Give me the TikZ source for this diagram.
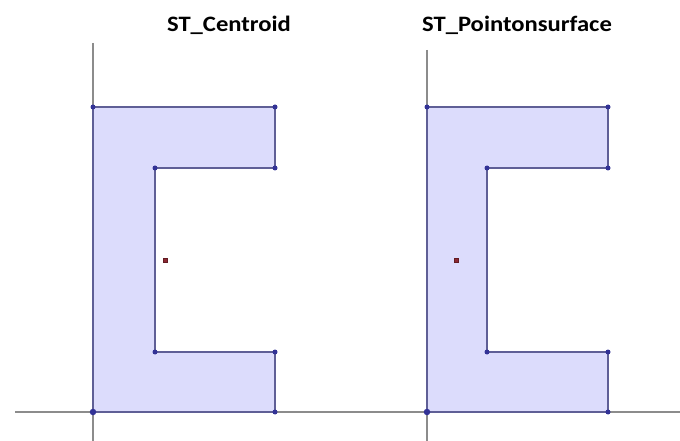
\documentclass[tikz,border=0pt]{standalone}
\usepackage{fontspec}
\setmainfont{Carlito}
\definecolor{edgec}{RGB}{95,95,150}
\definecolor{fillc}{RGB}{220,220,252}
\definecolor{vtxc}{RGB}{50,50,150}
\definecolor{ptc}{RGB}{140,40,50}
\begin{document}
\begin{tikzpicture}[x=1bp,y=-1bp,
  axis/.style={draw=black!45,line width=1.1bp},
  poly/.style={draw=edgec,fill=fillc,line width=1.1bp},
  vtx/.style={circle,fill=vtxc,inner sep=0pt,minimum size=5bp},
  orig/.style={circle,fill=vtxc,inner sep=0pt,minimum size=6.5bp},
  cpt/.style={rectangle,fill=ptc,draw=ptc!70!black,line width=0.4bp,inner sep=0pt,minimum size=4.5bp},
  ttl/.style={font=\bfseries\fontsize{22bp}{26bp}\selectfont,inner sep=0pt,anchor=base,xscale=1.12}]
\useasboundingbox (0,0) rectangle (680,441);
% axes
\coordinate (hL) at (15,412);
\coordinate (hR) at (680,412);
\coordinate (v1t) at (93,43);
\coordinate (v1b) at (93,441);
\coordinate (v2t) at (427,50);
\coordinate (v2b) at (427,441);
% left shape
\draw[poly] (93,107) coordinate (a1) -- (275,107) coordinate (a2) -- (275,168) coordinate (a3)
  -- (155,168) coordinate (a4) -- (155,352) coordinate (a5) -- (275,352) coordinate (a6)
  -- (275,412) coordinate (a7) -- (93,412) coordinate (a8) -- cycle;
% right shape
\draw[poly] (427,107) coordinate (b1) -- (608,107) coordinate (b2) -- (608,168) coordinate (b3)
  -- (487,168) coordinate (b4) -- (487,352) coordinate (b5) -- (608,352) coordinate (b6)
  -- (608,412) coordinate (b7) -- (427,412) coordinate (b8) -- cycle;
\draw[axis] (hL) -- (hR);
\draw[axis] (v1t) -- (v1b);
\draw[axis] (v2t) -- (v2b);
\draw[poly,fill=none] (a1) -- (a8) -- (a7);
\draw[poly,fill=none] (b1) -- (b8) -- (b7);
\foreach \p in {a1,a2,a3,a4,a5,a6,a7,b1,b2,b3,b4,b5,b6,b7} \node[vtx] at (\p) {};
\node[orig] (o1) at (a8) {};
\node[orig] (o2) at (b8) {};
\node[cpt] (c1) at (165,260) {};
\node[cpt] (c2) at (456,260) {};
\node[ttl] (t1) at (229,31.5) {ST\_Centroid};
\node[ttl] (t2) at (517,31.5) {ST\_Pointonsurface};
\end{tikzpicture}
\end{document}
